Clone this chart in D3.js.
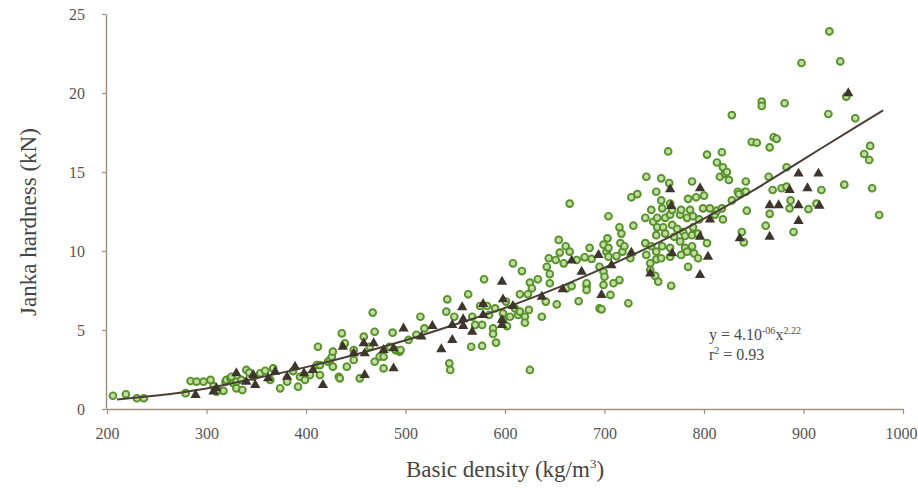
<!DOCTYPE html>
<html>
<head>
<meta charset="utf-8">
<script src="https://cdn.jsdelivr.net/npm/d3@7"></script>
<style>
  body { margin: 0; background: #fff; }
</style>
</head>
<body>
<script>
// green circles: [basic density, Janka hardness]
const greenPoints = [
  [206,0.84],[219,0.93],[230,0.68],[237,0.68],[279,1.0],[284,1.77],[290,1.73],[297,1.73],
  [304,1.84],[307,1.45],[310,1.1],[312,1.2],[317,1.15],[319,1.73],[320,1.84],[324,1.94],
  [325,2.04],[327,1.63],[330,1.31],[330,1.73],[335,1.84],[336,1.2],[340,2.47],[343,2.3],
  [347,2.04],[354,2.26],[359,2.42],[364,1.84],[367,2.57],[374,1.31],[381,1.73],[387,2.4],
  [392,1.41],[394,2.04],[399,1.84],[404,2.15],[411,2.78],[412,3.94],[414,2.15],[414,2.78],
  [422,2.99],[424,3.1],[426,3.31],[427,2.68],[427,3.63],[433,2.04],[434,1.94],[436,4.79],
  [438,4.05],[439,4.16],[441,2.68],[448,3.1],[448,3.73],[454,1.94],[458,4.58],[464,3.94],
  [467,6.1],[469,4.89],[469,2.99],[474,3.31],[478,3.31],[478,2.57],[484,3.94],[487,4.83],
  [490,3.73],[494,3.63],[495,3.73],[503,4.37],[511,4.7],[515,5.84],[519,5.1],[541,6.16],
  [542,6.94],[544,2.89],[545,2.47],[549,5.84],[563,7.26],[566,3.94],[567,5.84],[570,5.32],
  [575,6.52],[577,5.32],[577,3.99],[579,8.21],[582,6.52],[584,5.95],[588,5.1],[588,4.75],
  [590,6.37],[591,4.2],[598,6.05],[598,5.63],[601,6.8],[602,5.25],[605,5.84],[608,9.22],
  [610,6.37],[613,5.95],[615,7.26],[615,6.16],[617,8.73],[620,5.84],[620,5.46],[623,7.26],
  [624,6.27],[625,8.0],[625,2.47],[627,7.64],[633,8.21],[637,5.84],[641,6.8],[642,9.0],
  [644,9.54],[645,8.54],[645,7.96],[651,9.43],[652,6.62],[654,10.7],[655,9.9],[659,9.22],
  [661,10.3],[662,7.64],[665,13.0],[665,9.96],[667,7.78],[672,9.43],[674,6.82],[680,9.6],
  [682,7.78],[682,7.96],[682,7.53],[685,10.2],[687,9.5],[695,6.37],[695,9.0],[697,6.31],
  [699,8.69],[699,10.4],[700,8.37],[699,7.85],[702,9.96],[703,10.8],[704,12.2],[704,10.2],
  [704,9.64],[706,7.22],[709,7.96],[712,9.68],[715,8.16],[715,11.5],[716,10.5],[717,11.1],
  [718,9.96],[720,10.3],[724,6.69],[726,9.54],[727,13.4],[729,11.6],[733,13.6],[741,12.1],
  [741,10.5],[742,14.7],[742,9.75],[746,9.22],[746,8.8],[747,12.6],[747,10.3],[749,11.85],
  [751,8.42],[752,13.75],[752,9.96],[752,9.47],[753,12.1],[753,11.5],[752,11.0],[754,8.06],
  [757,14.6],[757,13.2],[758,12.7],[757,9.54],[758,10.3],[759,11.5],[761,12.1],[761,11.1],
  [764,16.3],[765,14.3],[766,13.0],[766,12.3],[766,10.2],[766,9.64],[768,12.6],[768,11.65],
  [767,7.8],[770,10.9],[773,11.4],[776,12.3],[777,12.6],[776,10.6],[777,9.75],[779,11.2],
  [781,10.95],[781,10.2],[783,12.1],[783,9.96],[784,13.3],[784,9.0],[786,12.6],[788,14.4],
  [788,11.0],[789,12.2],[789,11.5],[788,10.3],[790,9.85],[792,13.4],[794,11.1],[794,9.54],
  [795,12.0],[799,12.7],[800,13.5],[803,16.1],[803,10.5],[806,12.7],[811,12.3],[813,15.6],
  [813,12.55],[816,14.7],[818,16.25],[818,12.7],[819,15.3],[819,12.0],[821,14.9],[823,15.0],
  [825,14.5],[828,18.6],[828,13.2],[834,13.75],[835,13.6],[838,11.2],[840,10.55],[841,13.75],
  [842,14.4],[842,13.75],[843,12.55],[848,16.9],[853,16.85],[858,19.45],[858,19.18],[862,11.6],
  [865,14.7],[866,16.56],[866,12.35],[869,13.86],[870,17.2],[873,17.1],[878,13.97],[881,19.35],
  [883,15.3],[883,14.07],[886,12.7],[887,13.2],[890,11.2],[898,21.9],[905,12.65],[913,13.0],
  [918,13.86],[925,18.67],[926,23.9],[937,22.0],[941,14.2],[943,19.77],[952,18.4],[961,16.14],
  [966,15.76],[967,16.65],[969,13.97],[976,12.28]
];

// dark triangles
const trianglePoints = [
  [289,0.89],[307,1.1],[310,1.31],[330,2.26],[340,1.73],[347,2.15],[349,1.52],[362,1.94],
  [369,2.36],[381,2.04],[389,2.68],[398,2.26],[407,2.47],[417,1.52],[437,3.94],[448,3.52],
  [458,4.16],[459,3.52],[459,2.15],[468,4.16],[478,3.73],[488,2.57],[488,3.84],[498,5.1],
  [516,4.58],[527,5.25],[536,3.78],[547,5.32],[547,4.37],[557,6.44],[558,5.68],[558,5.25],
  [567,4.89],[578,6.65],[578,5.95],[597,8.06],[598,6.94],[597,5.63],[597,5.32],[608,6.52],
  [637,7.1],[658,7.57],[667,9.39],[677,8.69],[694,9.75],[697,7.22],[707,9.1],[727,9.9],
  [746,8.58],[766,13.9],[767,12.85],[768,9.85],[796,13.97],[796,10.9],[796,8.48],[804,9.64],
  [806,12.0],[836,10.8],[866,12.9],[866,10.9],[875,12.9],[886,13.86],[895,14.9],[895,12.9],
  [895,11.9],[904,13.97],[915,14.9],[916,12.87],[945,19.98]
];

// fitted power curve
const trendLine = [
  [210,0.6],[250,0.85],[300,1.3],[350,1.95],[400,2.65],[450,3.45],[500,4.35],[550,5.35],
  [600,6.4],[650,7.6],[700,8.95],[750,10.4],[800,12.05],[850,13.85],[900,15.8],[950,17.75],
  [980,18.9]
];

const xTicks = [200, 300, 400, 500, 600, 700, 800, 900, 1000];
const yTicks = [0, 5, 10, 15, 20, 25];

const width = 918;
const height = 494;
const font = "'Liberation Serif', 'DejaVu Serif', serif";
const axisColor = "#9b9186";

const x = d3.scaleLinear().domain([200, 1000]).range([107, 903]);
const y = d3.scaleLinear().domain([0, 25]).range([409, 14]);

const svg = d3.select("body")
  .append("svg")
  .attr("width", width)
  .attr("height", height)
  .attr("viewBox", [0, 0, width, height]);

// axes
const xAxis = svg.append("g")
  .attr("transform", `translate(0,${y(0)})`)
  .call(d3.axisBottom(x).tickValues(xTicks).tickFormat(d3.format("d"))
    .tickSize(5).tickPadding(14).tickSizeOuter(0));

const yAxis = svg.append("g")
  .attr("transform", `translate(${x(200) - 1},0)`)
  .call(d3.axisLeft(y).tickValues(yTicks).tickSize(4).tickPadding(17).tickSizeOuter(0));

[xAxis, yAxis].forEach((g) => {
  g.select(".domain").attr("stroke", axisColor).attr("stroke-width", 1.4);
  g.selectAll(".tick line").attr("stroke", axisColor).attr("stroke-width", 1.2);
  g.selectAll(".tick text")
    .attr("fill", "#555")
    .attr("font-family", font)
    .attr("font-size", 16);
});
// keep the last label inside the page
xAxis.selectAll(".tick text").filter((d) => d === 1000).attr("text-anchor", "end").attr("dx", 14);

// green circles
svg.append("g")
  .selectAll("circle")
  .data(greenPoints)
  .join("circle")
  .attr("cx", (d) => x(d[0]))
  .attr("cy", (d) => y(d[1]))
  .attr("r", 3.4)
  .attr("fill", "#c4dca4")
  .attr("stroke", "#56922a")
  .attr("stroke-width", 1.9);

// fitted curve
svg.append("path")
  .datum(trendLine)
  .attr("fill", "none")
  .attr("stroke", "#4a3f36")
  .attr("stroke-width", 2)
  .attr("d", d3.line().x((d) => x(d[0])).y((d) => y(d[1])).curve(d3.curveMonotoneX));

// triangles
svg.append("g")
  .selectAll("path")
  .data(trianglePoints)
  .join("path")
  .attr("transform", (d) => `translate(${x(d[0])},${y(d[1])})`)
  .attr("d", d3.symbol(d3.symbolTriangle, 46))
  .attr("fill", "#3e352d");

// axis titles
svg.append("text")
  .attr("x", 505)
  .attr("y", 477)
  .attr("text-anchor", "middle")
  .attr("font-family", font)
  .attr("font-size", 23)
  .attr("fill", "#444")
  .text("Basic density (kg/m")
  .call((t) => t.append("tspan").attr("dy", -9).attr("font-size", 13).text("3"))
  .call((t) => t.append("tspan").attr("dy", 9).text(")"));

svg.append("text")
  .attr("transform", "translate(36,222) rotate(-90)")
  .attr("text-anchor", "middle")
  .attr("font-family", font)
  .attr("font-size", 23)
  .attr("fill", "#444")
  .text("Janka hardness (kN)");

// equation
const eq = svg.append("g")
  .attr("font-family", font)
  .attr("font-size", 16)
  .attr("fill", "#4a4a4a");

eq.append("text")
  .attr("x", 709)
  .attr("y", 340)
  .text("y = 4.10")
  .call((t) => t.append("tspan").attr("dy", -6).attr("font-size", 10).text("-06"))
  .call((t) => t.append("tspan").attr("dy", 6).text("x"))
  .call((t) => t.append("tspan").attr("dy", -6).attr("font-size", 10).text("2.22"));

eq.append("text")
  .attr("x", 709)
  .attr("y", 360)
  .text("r")
  .call((t) => t.append("tspan").attr("dy", -6).attr("font-size", 10).text("2"))
  .call((t) => t.append("tspan").attr("dy", 6).text(" = 0.93"));
</script>
</body>
</html>
